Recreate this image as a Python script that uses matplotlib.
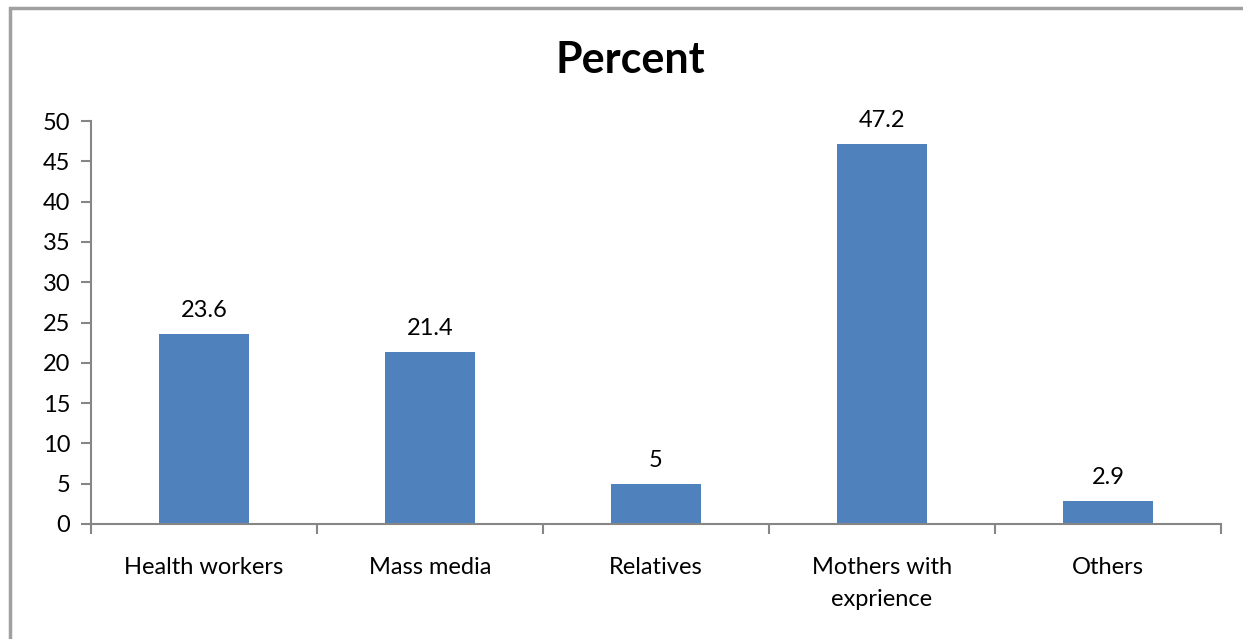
import matplotlib.pyplot as plt
import numpy as np
from matplotlib.patches import Rectangle

categories = ['Health workers', 'Mass media', 'Relatives', 'Mothers with\nexprience', 'Others']
values = [23.6, 21.4, 5, 47.2, 2.9]

plt.rcParams['font.family'] = ['Lato', 'DejaVu Sans']

fig = plt.figure(figsize=(12.43, 6.39), dpi=100)
ax = fig.add_axes([91/1243, 1 - 524/639, 1130/1243, 403/639])

# outer chart frame (cut off on the right and bottom like the original)
fig.patches.append(Rectangle((10/1243, -0.1), 1.2, 1 - 8/639 + 0.1, transform=fig.transFigure,
                             fill=False, edgecolor='#a0a0a0', linewidth=2.5))

x = np.arange(len(categories))
ax.bar(x, values, width=0.4, color='#4f81bd')
for xi, v in zip(x, values):
    ax.text(xi, v + 1.6, f'{v:g}', ha='center', va='bottom', fontsize=17)

ax.set_xlim(-0.5, len(categories) - 0.5)
ax.set_ylim(0, 50)
ax.set_yticks(range(0, 51, 5))
ax.set_xticks(x)
ax.set_xticklabels(categories, fontsize=17, linespacing=1.6)
ax.set_xticks(np.arange(-0.5, len(categories)), minor=True)
ax.tick_params(axis='x', which='major', length=0, pad=24)
ax.tick_params(axis='x', which='minor', length=7, color='#868686', width=1.5)
ax.tick_params(axis='y', length=7, color='#868686', width=1.5, labelsize=17, pad=8)

for s in ['top', 'right']:
    ax.spines[s].set_visible(False)
for s in ['left', 'bottom']:
    ax.spines[s].set_color('#868686')
    ax.spines[s].set_linewidth(1.5)

fig.text(630/1243, 1 - 60/639, 'Percent', ha='center', va='center', fontsize=31, fontweight='bold')

fig.savefig('out.png', dpi=100)
